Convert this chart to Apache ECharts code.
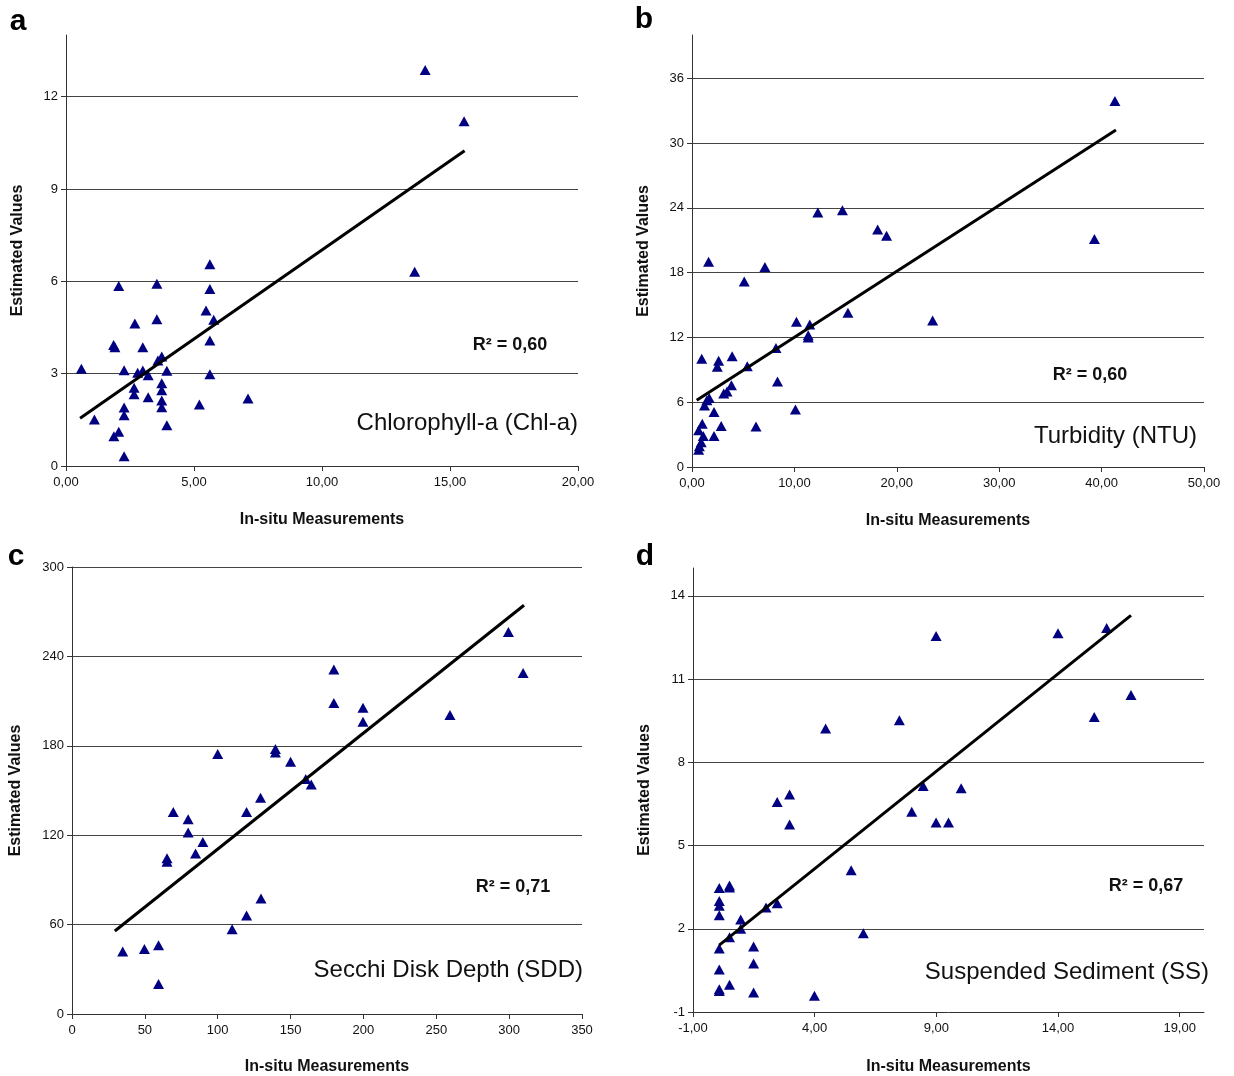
<!DOCTYPE html>
<html><head><meta charset="utf-8">
<script src="https://cdn.jsdelivr.net/npm/echarts@6/dist/echarts.min.js"></script>
<style>html,body{margin:0;padding:0;background:#fff}#c{width:1234px;height:1076px}</style>
</head><body><div id="c"></div>
<script>
// ---- Data ----
const chlA = [[14.03,12.86],[15.55,11.2],[13.62,6.31],[5.62,6.55],[5.62,5.75],[2.06,5.85],[3.55,5.92],[5.47,5.05],[5.77,4.75],[2.69,4.63],[3.55,4.77],[5.62,4.08],[1.86,3.93],[1.91,3.86],[3.0,3.86],[0.6,3.16],[2.27,3.11],[2.8,3.03],[3.0,3.1],[3.59,3.43],[3.74,3.56],[3.94,3.09],[3.21,2.95],[5.62,2.98],[3.74,2.69],[3.74,2.46],[2.66,2.54],[2.66,2.33],[3.21,2.23],[3.74,2.13],[3.74,1.91],[7.11,2.19],[5.21,2.0],[2.27,1.9],[2.27,1.65],[1.11,1.51],[3.94,1.32],[2.06,1.11],[1.87,0.97],[2.27,0.32]];
const chlTrend = [[0.55,1.55],[15.57,10.24]];

const turb = [[41.3,33.9],[39.3,21.1],[12.29,23.57],[14.69,23.78],[18.13,21.98],[19.0,21.42],[1.62,19.0],[7.12,18.52],[5.1,17.18],[15.23,14.28],[23.5,13.56],[10.2,13.45],[11.5,13.2],[11.35,12.2],[11.35,11.99],[8.2,11.03],[0.95,10.02],[2.6,9.84],[2.47,9.28],[3.92,10.25],[5.4,9.32],[8.35,7.92],[3.85,7.57],[3.42,7.0],[3.1,6.8],[1.68,6.39],[1.45,6.17],[1.22,5.7],[2.15,5.1],[10.1,5.33],[6.25,3.75],[2.85,3.8],[1.0,4.0],[0.65,3.4],[2.15,2.87],[1.1,2.87],[0.9,2.3],[0.72,1.92],[0.65,1.59]];
const turbTrend = [[0.46,6.17],[41.4,31.2]];

const sdd = [[299.5,256.4],[309.6,228.9],[179.7,231.2],[179.7,208.7],[199.7,205.5],[199.7,196.1],[259.4,200.7],[100,174.5],[139.6,177.8],[139.6,175.5],[150,169.3],[160.4,157.8],[164.2,154.1],[129.4,145.2],[69.5,135.6],[119.8,135.6],[79.7,130.7],[79.7,121.8],[89.8,115.4],[84.8,107.8],[65.2,104.6],[65.2,102.1],[129.7,77.5],[119.8,66.1],[109.9,56.9],[59.4,46.1],[49.7,43.6],[34.8,42.0],[59.4,20.2]];
const sddTrend = [[29.4,55.7],[310.2,274.3]];

const ss = [[16.0,12.84],[14.0,12.65],[8.99,12.55],[17.0,10.42],[15.49,9.63],[7.48,9.51],[4.45,9.22],[8.46,7.14],[10.02,7.06],[2.97,6.84],[2.46,6.57],[7.99,6.22],[8.99,5.83],[9.5,5.83],[2.97,5.76],[5.5,4.11],[0.5,3.56],[0.08,3.47],[0.5,3.49],[0.08,3.0],[0.08,2.83],[0.08,2.49],[2.46,2.92],[2.0,2.77],[0.96,2.33],[0.96,2.0],[6.0,1.84],[0.5,1.69],[0.08,1.29],[1.49,1.36],[1.49,0.75],[0.08,0.53],[0.5,-0.02],[0.08,-0.18],[0.08,-0.24],[1.49,-0.3],[3.99,-0.41]];
const ssTrend = [[0.08,1.41],[17.0,13.29]];

const panelLetters = ['a','b','c','d'];
const panelNames = ['Chlorophyll-a (Chl-a)','Turbidity (NTU)','Secchi Disk Depth (SDD)','Suspended Sediment (SS)'];
const r2Texts = ['R\u00B2 = 0,60','R\u00B2 = 0,60','R\u00B2 = 0,71','R\u00B2 = 0,67'];
const xTitle = 'In-situ Measurements';
const yTitle = 'Estimated Values';

// axis ranges [min,max,interval]
const xRanges = [[0,20,5],[0,50,10],[0,350,50],[-1,20,5]];
const yRanges = [[0,14,3],[0,40,6],[0,300,60],[-1,15,3]];
const xDecimals = [2,2,0,2];

// ---- Layout ----
const FONT = '"Liberation Sans", Arial, sans-serif';
const grids = [
  {left:66, top:35, width:512, height:431},
  {left:692, top:35, width:512, height:432},
  {left:72, top:567, width:510, height:447},
  {left:693, top:568, width:511, height:444}
];
const yNameGap = [40, 40, 48, 40];
const xNameGap = [46, 46, 45, 47];
const letterPos = [[18,22],[644,20],[16,557],[645,557]];
const r2Pos = [[510,345],[1090,375],[513,887],[1146,886]];
const namePos = [[578,423],[1197,436],[583,970],[1209,972]];

const seriesData = [chlA, turb, sdd, ss];
const trends = [chlTrend, turbTrend, sddTrend, ssTrend];

const xAxes = [], yAxes = [], series = [], graphics = [];
for (let i = 0; i < 4; i++) {
  const xr = xRanges[i], yr = yRanges[i];
  const dec = xDecimals[i];
  xAxes.push({
    type:'value', gridIndex:i, min:xr[0], max:xr[1], interval:xr[2],
    name:xTitle, nameLocation:'middle', nameGap:xNameGap[i],
    nameTextStyle:{fontFamily:FONT, fontWeight:'bold', fontSize:16, color:'#111'},
    axisLine:{show:true, onZero:false, lineStyle:{color:'#333', width:1}},
    axisTick:{show:true, length:5, lineStyle:{color:'#333'}},
    axisLabel:{fontFamily:FONT, fontSize:13, color:'#111', margin:10,
      showMaxLabel: (xr[1]-xr[0]) % xr[2] === 0,
      formatter: v => dec ? v.toFixed(dec).replace('.', ',') : String(v)},
    splitLine:{show:false}
  });
  yAxes.push({
    type:'value', gridIndex:i, min:yr[0], max:yr[1], interval:yr[2],
    name:yTitle, nameLocation:'middle', nameGap:yNameGap[i],
    nameTextStyle:{fontFamily:FONT, fontWeight:'bold', fontSize:16, color:'#111'},
    axisLine:{show:true, onZero:false, lineStyle:{color:'#333', width:1}},
    axisTick:{show:true, length:5, lineStyle:{color:'#333'}},
    axisLabel:{fontFamily:FONT, fontSize:13, color:'#111', margin:8,
      showMaxLabel: (yr[1]-yr[0]) % yr[2] === 0},
    splitLine:{show:true, showMinLine:false, showMaxLine:(yr[1]-yr[0]) % yr[2] === 0,
      lineStyle:{color:'#444', width:1}}
  });
  series.push({
    type:'scatter', xAxisIndex:i, yAxisIndex:i, data:seriesData[i],
    symbol:'triangle', symbolSize:[11,10],
    itemStyle:{color:'#000080', opacity:1}, silent:true, z:3
  });
  series.push({
    type:'line', xAxisIndex:i, yAxisIndex:i, data:trends[i],
    showSymbol:false, symbol:'none', lineStyle:{color:'#000', width:3}, silent:true, z:4
  });
  graphics.push({type:'text', x:letterPos[i][0], y:letterPos[i][1],
    style:{text:panelLetters[i], font:'bold 30px ' + FONT, fill:'#000', align:'center', verticalAlign:'middle'}});
  graphics.push({type:'text', x:r2Pos[i][0], y:r2Pos[i][1],
    style:{text:r2Texts[i], font:'bold 18px ' + FONT, fill:'#111', align:'center', verticalAlign:'middle'}});
  graphics.push({type:'text', x:namePos[i][0], y:namePos[i][1],
    style:{text:panelNames[i], font:'24px ' + FONT, fill:'#111', align:'right', verticalAlign:'middle'}});
}

const chart = echarts.init(document.getElementById('c'), null, {renderer:'canvas'});
chart.setOption({
  animation:false,
  backgroundColor:'#fff',
  grid: grids,
  xAxis: xAxes,
  yAxis: yAxes,
  series: series,
  graphic: graphics
});
</script>
</body></html>
